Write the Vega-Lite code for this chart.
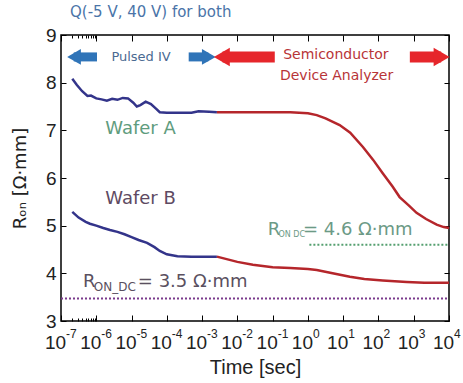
{
  "$schema": "https://vega.github.io/schema/vega-lite/v6.json",
  "width": 388,
  "height": 286,
  "autosize": "none",
  "padding": {"left": 61, "top": 35, "right": 14, "bottom": 62},
  "background": "white",
  "config": {
    "font": "Liberation Sans",
    "view": {"stroke": "black", "strokeWidth": 1.5},
    "axis": {"grid": false, "domain": false, "tickColor": "black", "labelColor": "#222", "titleColor": "#222", "labelFont": "Liberation Sans", "titleFont": "Liberation Sans", "titleFontWeight": "normal"}
  },
  "title": {"text": "Q(-5 V, 40 V) for both", "anchor": "start", "frame": "group", "dx": 9, "offset": 6, "fontSize": 15, "fontWeight": "normal", "color": "#4a74a8", "font": "DejaVu Sans"},
  "datasets": {
    "curves": [
      {"wafer": "A", "method": "Pulsed IV", "t": 2.09e-7, "r": 8.08},
      {"wafer": "A", "method": "Pulsed IV", "t": 2.82e-7, "r": 7.95},
      {"wafer": "A", "method": "Pulsed IV", "t": 3.98e-7, "r": 7.82},
      {"wafer": "A", "method": "Pulsed IV", "t": 5.62e-7, "r": 7.72},
      {"wafer": "A", "method": "Pulsed IV", "t": 7.08e-7, "r": 7.73},
      {"wafer": "A", "method": "Pulsed IV", "t": 1.0e-6, "r": 7.67},
      {"wafer": "A", "method": "Pulsed IV", "t": 1.41e-6, "r": 7.65},
      {"wafer": "A", "method": "Pulsed IV", "t": 2.0e-6, "r": 7.62},
      {"wafer": "A", "method": "Pulsed IV", "t": 2.82e-6, "r": 7.66},
      {"wafer": "A", "method": "Pulsed IV", "t": 3.98e-6, "r": 7.64},
      {"wafer": "A", "method": "Pulsed IV", "t": 5.62e-6, "r": 7.68},
      {"wafer": "A", "method": "Pulsed IV", "t": 7.94e-6, "r": 7.67},
      {"wafer": "A", "method": "Pulsed IV", "t": 1.12e-5, "r": 7.58},
      {"wafer": "A", "method": "Pulsed IV", "t": 1.41e-5, "r": 7.5},
      {"wafer": "A", "method": "Pulsed IV", "t": 1.78e-5, "r": 7.53},
      {"wafer": "A", "method": "Pulsed IV", "t": 2.51e-5, "r": 7.6},
      {"wafer": "A", "method": "Pulsed IV", "t": 3.55e-5, "r": 7.55},
      {"wafer": "A", "method": "Pulsed IV", "t": 5.01e-5, "r": 7.45},
      {"wafer": "A", "method": "Pulsed IV", "t": 6.31e-5, "r": 7.38},
      {"wafer": "A", "method": "Pulsed IV", "t": 1.0e-4, "r": 7.37},
      {"wafer": "A", "method": "Pulsed IV", "t": 2.51e-4, "r": 7.37},
      {"wafer": "A", "method": "Pulsed IV", "t": 5.01e-4, "r": 7.37},
      {"wafer": "A", "method": "Pulsed IV", "t": 7.94e-4, "r": 7.4},
      {"wafer": "A", "method": "Pulsed IV", "t": 1.58e-3, "r": 7.39},
      {"wafer": "A", "method": "Pulsed IV", "t": 2.63e-3, "r": 7.38},
      {"wafer": "A", "method": "Analyzer", "t": 2.63e-3, "r": 7.38},
      {"wafer": "A", "method": "Analyzer", "t": 0.01, "r": 7.38},
      {"wafer": "A", "method": "Analyzer", "t": 0.1, "r": 7.38},
      {"wafer": "A", "method": "Analyzer", "t": 0.316, "r": 7.38},
      {"wafer": "A", "method": "Analyzer", "t": 1.0, "r": 7.36},
      {"wafer": "A", "method": "Analyzer", "t": 1.78, "r": 7.32},
      {"wafer": "A", "method": "Analyzer", "t": 3.16, "r": 7.25},
      {"wafer": "A", "method": "Analyzer", "t": 7.94, "r": 7.11},
      {"wafer": "A", "method": "Analyzer", "t": 15.8, "r": 6.95},
      {"wafer": "A", "method": "Analyzer", "t": 36.3, "r": 6.65},
      {"wafer": "A", "method": "Analyzer", "t": 70.8, "r": 6.38},
      {"wafer": "A", "method": "Analyzer", "t": 132, "r": 6.1},
      {"wafer": "A", "method": "Analyzer", "t": 251, "r": 5.82},
      {"wafer": "A", "method": "Analyzer", "t": 398, "r": 5.6},
      {"wafer": "A", "method": "Analyzer", "t": 708, "r": 5.43},
      {"wafer": "A", "method": "Analyzer", "t": 1202, "r": 5.27},
      {"wafer": "A", "method": "Analyzer", "t": 2239, "r": 5.14},
      {"wafer": "A", "method": "Analyzer", "t": 4467, "r": 5.02},
      {"wafer": "A", "method": "Analyzer", "t": 7079, "r": 4.97},
      {"wafer": "A", "method": "Analyzer", "t": 10000, "r": 4.95},
      {"wafer": "B", "method": "Pulsed IV", "t": 2.09e-7, "r": 5.29},
      {"wafer": "B", "method": "Pulsed IV", "t": 3.16e-7, "r": 5.17},
      {"wafer": "B", "method": "Pulsed IV", "t": 5.01e-7, "r": 5.08},
      {"wafer": "B", "method": "Pulsed IV", "t": 6.61e-7, "r": 5.04},
      {"wafer": "B", "method": "Pulsed IV", "t": 1.0e-6, "r": 5.0},
      {"wafer": "B", "method": "Pulsed IV", "t": 1.58e-6, "r": 4.95},
      {"wafer": "B", "method": "Pulsed IV", "t": 2.45e-6, "r": 4.91},
      {"wafer": "B", "method": "Pulsed IV", "t": 3.98e-6, "r": 4.87},
      {"wafer": "B", "method": "Pulsed IV", "t": 6.31e-6, "r": 4.82},
      {"wafer": "B", "method": "Pulsed IV", "t": 1.0e-5, "r": 4.76},
      {"wafer": "B", "method": "Pulsed IV", "t": 1.58e-5, "r": 4.7},
      {"wafer": "B", "method": "Pulsed IV", "t": 2.75e-5, "r": 4.64},
      {"wafer": "B", "method": "Pulsed IV", "t": 4.47e-5, "r": 4.55},
      {"wafer": "B", "method": "Pulsed IV", "t": 6.31e-5, "r": 4.47},
      {"wafer": "B", "method": "Pulsed IV", "t": 1.0e-4, "r": 4.4},
      {"wafer": "B", "method": "Pulsed IV", "t": 2.0e-4, "r": 4.36},
      {"wafer": "B", "method": "Pulsed IV", "t": 5.01e-4, "r": 4.35},
      {"wafer": "B", "method": "Pulsed IV", "t": 1.26e-3, "r": 4.35},
      {"wafer": "B", "method": "Pulsed IV", "t": 2.63e-3, "r": 4.35},
      {"wafer": "B", "method": "Analyzer", "t": 2.63e-3, "r": 4.35},
      {"wafer": "B", "method": "Analyzer", "t": 0.01, "r": 4.24},
      {"wafer": "B", "method": "Analyzer", "t": 0.0275, "r": 4.18},
      {"wafer": "B", "method": "Analyzer", "t": 0.1, "r": 4.13},
      {"wafer": "B", "method": "Analyzer", "t": 0.316, "r": 4.11},
      {"wafer": "B", "method": "Analyzer", "t": 1.0, "r": 4.09},
      {"wafer": "B", "method": "Analyzer", "t": 1.78, "r": 4.07},
      {"wafer": "B", "method": "Analyzer", "t": 5.01, "r": 4.0},
      {"wafer": "B", "method": "Analyzer", "t": 15.5, "r": 3.93},
      {"wafer": "B", "method": "Analyzer", "t": 39.8, "r": 3.88},
      {"wafer": "B", "method": "Analyzer", "t": 132, "r": 3.85},
      {"wafer": "B", "method": "Analyzer", "t": 631, "r": 3.82},
      {"wafer": "B", "method": "Analyzer", "t": 1995, "r": 3.8},
      {"wafer": "B", "method": "Analyzer", "t": 10000, "r": 3.8}
    ],
    "refs": [
      {"kind": "A", "t1": 1.1, "t2": 10000, "r": 4.6},
      {"kind": "B", "t1": 1e-7, "t2": 10000, "r": 3.47}
    ],
    "arrows": [
      {"group": "Pulsed IV", "t1": 2.3e-7, "t2": 1.05e-6, "r": 8.54},
      {"group": "Pulsed IV", "t1": 4.17e-4, "t2": 1.5e-3, "r": 8.54},
      {"group": "Analyzer", "t1": 3.8e-3, "t2": 0.115, "r": 8.54},
      {"group": "Analyzer", "t1": 776, "t2": 6000, "r": 8.54}
    ],
    "heads": [
      {"group": "Pulsed IV", "dir": "left", "t": 2.34e-7, "r": 8.54},
      {"group": "Pulsed IV", "dir": "right", "t": 1.55e-3, "r": 8.54},
      {"group": "Analyzer", "dir": "left", "t": 3.63e-3, "r": 8.54},
      {"group": "Analyzer", "dir": "right", "t": 6166, "r": 8.54}
    ],
    "exps": [
      {"t": 1e-7, "text": "-7"}, {"t": 1e-6, "text": "-6"}, {"t": 1e-5, "text": "-5"}, {"t": 1e-4, "text": "-4"},
      {"t": 1e-3, "text": "-3"}, {"t": 1e-2, "text": "-2"}, {"t": 1e-1, "text": "-1"}, {"t": 1, "text": "0"},
      {"t": 10, "text": "1"}, {"t": 100, "text": "2"}, {"t": 1000, "text": "3"}, {"t": 10000, "text": "4"}
    ],
    "notes": [
      {"key": "A", "t": 1.8e-6, "r": 7.03, "text": "Wafer A"},
      {"key": "B", "t": 1.8e-6, "r": 5.56, "text": "Wafer B"},
      {"key": "dcB", "t": 4.2e-7, "r": 3.82, "text": "R"},
      {"key": "dcB", "t": 1.51e-5, "r": 3.82, "text": "= 3.5 Ω·mm"},
      {"key": "dcA", "t": 0.0724, "r": 4.91, "text": "R"},
      {"key": "dcA", "t": 0.724, "r": 4.91, "text": "= 4.6 Ω·mm"}
    ],
    "subsB": [
      {"key": "dcB", "t": 8.5e-7, "r": 3.72, "text": "ON_DC"}
    ],
    "subsA": [
      {"key": "dcA", "t": 0.147, "r": 4.8, "text": "ON DC"}
    ],
    "head_text_small": [
      {"group": "Pulsed IV", "t": 1.86e-5, "r": 8.54, "text": "Pulsed IV"}
    ],
    "head_text": [
      {"group": "Analyzer", "t": 6.2, "r": 8.58, "text": "Semiconductor"},
      {"group": "Analyzer", "t": 6.5, "r": 8.13, "text": "Device Analyzer"}
    ]
  },
  "resolve": {"scale": {"color": "independent", "shape": "independent", "size": "independent", "strokeWidth": "independent"}, "axis": {"x": "independent", "y": "independent"}},
  "layer": [
    {
      "data": {"name": "curves"},
      "mark": {"type": "line", "strokeWidth": 2.5},
      "encoding": {
        "x": {"field": "t", "type": "quantitative", "scale": {"type": "log", "domain": [1e-7, 10000]},
          "axis": {"orient": "bottom", "title": "Time [sec]", "titleFontSize": 20, "titleFontWeight": "normal", "titlePadding": 2, "labelFontSize": 19, "labelOverlap": false, "labelFlush": false, "labelBound": false, "labelPadding": 18, "labelOffset": -6,
            "values": [1e-7, 2e-7, 3e-7, 4e-7, 5e-7, 6e-7, 7e-7, 8e-7, 9e-7, 1e-6, 1e-5, 1e-4, 1e-3, 1e-2, 1e-1, 1, 10, 100, 1000, 10000],
            "tickSize": {"condition": {"test": "abs(log(datum.value)/LN10 - round(log(datum.value)/LN10)) < 0.01", "value": -6}, "value": -3},
            "labelExpr": "abs(log(datum.value)/LN10 - round(log(datum.value)/LN10)) < 0.01 ? '10' : ''"}},
        "y": {"field": "r", "type": "quantitative", "scale": {"domain": [3, 9]},
          "axis": {"orient": "left", "title": "Rₒₙ [Ω·mm]", "titleFont": "DejaVu Sans", "titleFontSize": 18, "titleFontWeight": "normal", "titlePadding": 16, "labelFontSize": 19, "labelPadding": 10, "tickSize": -5, "values": [3, 4, 5, 6, 7, 8, 9]}},
        "color": {"field": "method", "type": "nominal", "scale": {"domain": ["Pulsed IV", "Analyzer"], "range": ["#33348a", "#b5262b"]}, "legend": null},
        "detail": {"field": "wafer", "type": "nominal"}
      }
    },
    {
      "data": {"name": "curves"},
      "mark": {"type": "point", "opacity": 0},
      "encoding": {
        "x": {"field": "t", "type": "quantitative", "scale": {"type": "log", "domain": [1e-7, 10000]},
          "axis": {"orient": "top", "title": null, "labels": false,
            "values": [1e-7, 2e-7, 3e-7, 4e-7, 5e-7, 6e-7, 7e-7, 8e-7, 9e-7, 1e-6, 1e-5, 1e-4, 1e-3, 1e-2, 1e-1, 1, 10, 100, 1000, 10000],
            "tickSize": {"condition": {"test": "abs(log(datum.value)/LN10 - round(log(datum.value)/LN10)) < 0.01", "value": -6}, "value": -3}}},
        "y": {"field": "r", "type": "quantitative", "scale": {"domain": [3, 9]},
          "axis": {"orient": "right", "title": null, "labels": false, "tickSize": -5, "values": [3, 4, 5, 6, 7, 8, 9]}}
      }
    },
    {
      "data": {"name": "exps"},
      "mark": {"type": "text", "fontSize": 12, "align": "left", "baseline": "middle", "dx": 5, "dy": 13, "font": "Liberation Sans", "color": "#222"},
      "encoding": {
        "x": {"field": "t", "type": "quantitative", "axis": null},
        "y": {"datum": 3, "type": "quantitative", "axis": null},
        "text": {"field": "text"}
      }
    },
    {
      "data": {"name": "refs"},
      "mark": {"type": "rule", "strokeWidth": 2, "strokeDash": [2, 2]},
      "encoding": {
        "x": {"field": "t1", "type": "quantitative", "axis": null},
        "x2": {"field": "t2"},
        "y": {"field": "r", "type": "quantitative", "axis": null},
        "color": {"field": "kind", "type": "nominal", "scale": {"domain": ["A", "B"], "range": ["#55a070", "#7a3a8c"]}, "legend": null}
      }
    },
    {
      "data": {"name": "arrows"},
      "mark": {"type": "rule"},
      "encoding": {
        "x": {"field": "t1", "type": "quantitative", "axis": null},
        "x2": {"field": "t2"},
        "y": {"field": "r", "type": "quantitative", "axis": null},
        "strokeWidth": {"field": "group", "type": "nominal", "scale": {"domain": ["Pulsed IV", "Analyzer"], "range": [9, 11]}, "legend": null},
        "color": {"field": "group", "type": "nominal", "scale": {"domain": ["Pulsed IV", "Analyzer"], "range": ["#2f74b8", "#e6262b"]}, "legend": null}
      }
    },
    {
      "data": {"name": "heads"},
      "mark": {"type": "point", "filled": true, "opacity": 1},
      "encoding": {
        "x": {"field": "t", "type": "quantitative", "axis": null},
        "y": {"field": "r", "type": "quantitative", "axis": null},
        "shape": {"field": "dir", "type": "nominal", "scale": {"domain": ["left", "right"], "range": ["triangle-left", "triangle-right"]}, "legend": null},
        "size": {"field": "group", "type": "nominal", "scale": {"domain": ["Pulsed IV", "Analyzer"], "range": [250, 340]}, "legend": null},
        "color": {"field": "group", "type": "nominal", "scale": {"domain": ["Pulsed IV", "Analyzer"], "range": ["#2f74b8", "#e6262b"]}, "legend": null}
      }
    },
    {
      "data": {"name": "notes"},
      "mark": {"type": "text", "fontSize": 18, "align": "left", "baseline": "middle", "font": "DejaVu Sans"},
      "encoding": {
        "x": {"field": "t", "type": "quantitative", "axis": null},
        "y": {"field": "r", "type": "quantitative", "axis": null},
        "text": {"field": "text"},
        "color": {"field": "key", "type": "nominal", "scale": {"domain": ["A", "B", "dcA", "dcB"], "range": ["#5f9c7e", "#5e4a62", "#6c9a86", "#5a5060"]}, "legend": null}
      }
    },
    {
      "data": {"name": "subsB"},
      "mark": {"type": "text", "fontSize": 12, "align": "left", "baseline": "middle", "font": "DejaVu Sans", "color": "#5a5060"},
      "encoding": {
        "x": {"field": "t", "type": "quantitative", "axis": null},
        "y": {"field": "r", "type": "quantitative", "axis": null},
        "text": {"field": "text"}
      }
    },
    {
      "data": {"name": "subsA"},
      "mark": {"type": "text", "fontSize": 8, "align": "left", "baseline": "middle", "font": "DejaVu Sans", "color": "#6c9a86"},
      "encoding": {
        "x": {"field": "t", "type": "quantitative", "axis": null},
        "y": {"field": "r", "type": "quantitative", "axis": null},
        "text": {"field": "text"}
      }
    },
    {
      "data": {"name": "head_text_small"},
      "mark": {"type": "text", "fontSize": 13, "align": "center", "baseline": "middle", "font": "DejaVu Sans", "color": "#4a6a92"},
      "encoding": {
        "x": {"field": "t", "type": "quantitative", "axis": null},
        "y": {"field": "r", "type": "quantitative", "axis": null},
        "text": {"field": "text"}
      }
    },
    {
      "data": {"name": "head_text"},
      "mark": {"type": "text", "fontSize": 14, "align": "center", "baseline": "middle", "font": "DejaVu Sans", "color": "#b83438"},
      "encoding": {
        "x": {"field": "t", "type": "quantitative", "axis": null},
        "y": {"field": "r", "type": "quantitative", "axis": null},
        "text": {"field": "text"}
      }
    }
  ]
}
